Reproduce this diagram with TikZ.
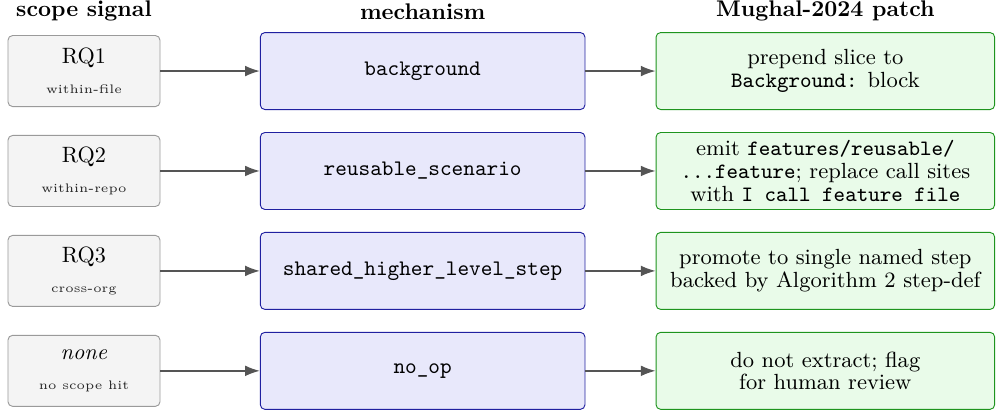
\documentclass[tikz,border=0pt]{standalone}
\usepackage{amsmath}
\usepackage{amssymb}
\usetikzlibrary{positioning,arrows.meta}

\definecolor{sigfill}{HTML}{F4F4F4}
\definecolor{sigline}{HTML}{9A9A9A}
\definecolor{mechfill}{HTML}{E8E8FB}
\definecolor{mechline}{HTML}{2020A0}
\definecolor{patchfill}{HTML}{E9FBE9}
\definecolor{patchline}{HTML}{1E941E}
\definecolor{arrline}{HTML}{555555}

\newcommand{\sublabel}[1]{{\fontsize{5.3}{6}\selectfont\color{black!85}#1}}

\tikzset{
  sigbox/.style={draw=sigline, fill=sigfill, rounded corners=2pt, minimum width=2.29cm, minimum height=1.07cm, align=center, inner sep=0pt, font=\fontsize{9.5}{10}\selectfont},
  mechbox/.style={draw=mechline, fill=mechfill, rounded corners=2pt, minimum width=4.89cm, minimum height=1.16cm, align=center, inner sep=0pt, font=\fontsize{9.5}{10}\selectfont\ttfamily},
  patchbox/.style={draw=patchline, fill=patchfill, rounded corners=2pt, minimum width=5.1cm, minimum height=1.16cm, align=center, inner sep=0pt, font=\fontsize{9.4}{9.7}\selectfont},
  flow/.style={draw=arrline, semithick, -{Latex[length=2.2mm,width=1.6mm]}},
  head/.style={font=\fontsize{9.7}{11}\selectfont\bfseries}
}

\begin{document}
\begin{tikzpicture}
\useasboundingbox (0,0) rectangle (15,-6.175);
\def\xa{1.265};
\def\xb{6.365};
\def\xc{12.43};

\def\ya{-1.07};
\def\yb{-2.575};
\def\yc{-4.08};
\def\yd{-5.585};

\node[head] (hsig) at (\xa, -0.17) {scope signal};
\node[head] (hmech) at (\xb, -0.17) {mechanism};
\node[head] (hpatch) at (\xc, -0.17) {Mughal-2024 patch};

\node[sigbox] (rq1) at (\xa, \ya) {RQ1\\[3pt]\sublabel{within-file}};
\node[sigbox] (rq2) at (\xa, \yb) {RQ2\\[3pt]\sublabel{within-repo}};
\node[sigbox] (rq3) at (\xa, \yc) {RQ3\\[3pt]\sublabel{cross-org}};
\node[sigbox] (none) at (\xa, \yd) {\textit{none}\\[3pt]\sublabel{no scope hit}};

\node[mechbox] (bg) at (\xb, \ya) {background};
\node[mechbox] (reuse) at (\xb, \yb) {reusable\_scenario};
\node[mechbox] (shared) at (\xb, \yc) {shared\_higher\_level\_step};
\node[mechbox] (noop) at (\xb, \yd) {no\_op};

\node[patchbox] (prepend) at (\xc, \ya) {prepend slice to\\\texttt{Background:} block};
\node[patchbox] (emit) at (\xc, \yb) {emit \texttt{features/reusable/}\\\texttt{...feature}; replace call sites\\with \texttt{I call feature file}};
\node[patchbox] (promote) at (\xc, \yc) {promote to single named step\\backed by Algorithm 2 step-def};
\node[patchbox] (flag) at (\xc, \yd) {do not extract; flag\\for human review};

\draw[flow] (rq1) -- (bg);
\draw[flow] (rq2) -- (reuse);
\draw[flow] (rq3) -- (shared);
\draw[flow] (none) -- (noop);
\draw[flow] (bg) -- (prepend);
\draw[flow] (reuse) -- (emit);
\draw[flow] (shared) -- (promote);
\draw[flow] (noop) -- (flag);

\end{tikzpicture}
\end{document}
